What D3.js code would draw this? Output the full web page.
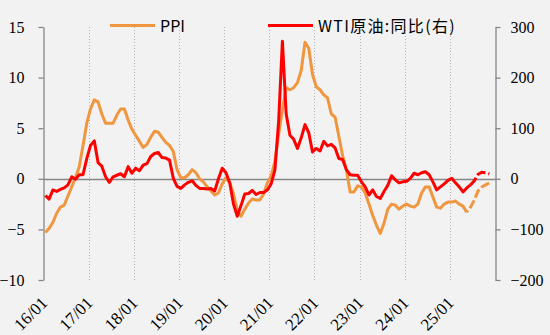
<!DOCTYPE html>
<html><head><meta charset="utf-8">
<script src="https://cdn.jsdelivr.net/npm/d3@7"></script>
<style>
html,body{margin:0;padding:0;background:#f2f2f2;}
svg{display:block;}
</style></head><body>
<svg id="c" width="550" height="335"></svg>
<script>
// ---------- data ----------
const xTickLabels = ["16/01","17/01","18/01","19/01","20/01","21/01","22/01","23/01","24/01","25/01"];
const leftTicks = [-10,-5,0,5,10,15];
const rightTicks = [-200,-100,0,100,200,300];
const seriesNames = ["PPI","WTI原油:同比(右)"];

// PPI YoY (%), monthly from 2016-01
const ppiActual = [
  -5.3,-4.9,-4.3,-3.4,-2.8,-2.6,-1.7,-0.8,0.1,1.2,3.3,5.5,
  6.9,7.8,7.6,6.4,5.5,5.5,5.5,6.3,6.9,6.9,5.8,4.9,
  4.3,3.7,3.1,3.4,4.1,4.7,4.6,4.1,3.6,3.3,2.7,0.9,
  0.1,0.1,0.4,0.9,0.6,0.0,-0.3,-0.8,-1.2,-1.6,-1.4,-0.5,
  0.1,-0.4,-1.5,-3.1,-3.7,-3.0,-2.4,-2.0,-2.1,-2.1,-1.5,-0.4,
  0.3,1.7,4.4,6.8,9.0,8.8,9.0,9.5,10.7,13.5,12.9,10.3,
  9.1,8.8,8.3,8.0,6.4,6.1,4.2,2.3,0.9,-1.3,-1.3,-0.7,
  -0.8,-1.4,-2.5,-3.6,-4.6,-5.4,-4.4,-3.0,-2.5,-2.6,-3.0,-2.7,
  -2.5,-2.7,-2.8,-2.5,-1.4,-0.8,-0.8,-1.8,-2.8,-2.9,-2.5,-2.3,
  -2.3,-2.2,-2.5,-2.7,-3.3
];
const ppiForecastStart = 112;
const ppiForecast = [-3.3,-2.8,-2.1,-1.2,-0.8,-0.6,-0.4];

// WTI crude YoY (%), monthly from 2016-01
const wtiActual = [
  -33,-40,-22,-25,-21,-18,-12,4,-1,8,8,40,
  66,75,32,25,4,-7,4,7,10,4,24,11,
  21,16,27,30,44,50,52,42,41,37,1,-15,
  -19,-12,-7,-4,-13,-19,-19,-20,-19,-24,0,21,
  12,-8,-50,-74,-53,-30,-29,-23,-31,-27,-27,-22,
  -10,17,114,272,128,86,78,60,81,107,91,53,
  60,55,74,65,68,61,40,38,18,8,7,7,
  -6,-16,-32,-22,-35,-39,-25,-13,6,-2,-8,-6,
  -5,1,11,8,12,14,8,-6,-22,-16,-10,-3,
  1,-8,-16,-26,-18,-12
];
const wtiForecastStart = 113;
const wtiForecast = [-12,-4,9,13,12,10];

// ---------- layout ----------
const svg = d3.select("#c");
const L = 43.5, R = 495.5, T = 27, B = 280;
const serif = "'Liberation Serif','Times New Roman',serif";
const sans = "'Noto Sans CJK SC','Microsoft YaHei',sans-serif";
const axisColor = "#868686";
const ppiColor = "#f0963e";
const wtiColor = "#ff0000";

svg.append("rect").attr("width",550).attr("height",335).attr("fill","#f2f2f2");

const nMonths = xTickLabels.length * 12;
const x = d3.scaleBand().domain(d3.range(nMonths)).range([L, R - 0.5]);
const xc = m => x(m) + x.bandwidth()/2;
const yL = d3.scaleLinear().domain([-10,15]).range([B,T]);
const yR = d3.scaleLinear().domain([-200,300]).range([B,T]);

// vertical dotted gridlines at each January
svg.append("g").selectAll("line")
  .data(xTickLabels.slice(1).map((d,i)=>(i+1)*12))
  .join("line")
  .attr("x1",d=>Math.round(x(d))+0.5).attr("x2",d=>Math.round(x(d))+0.5)
  .attr("y1",yL(15)).attr("y2",yL(-10))
  .attr("stroke","#b4b4b4").attr("stroke-width",1).attr("stroke-dasharray","1,2");

// zero line
svg.append("line")
  .attr("x1",L).attr("x2",R)
  .attr("y1",Math.round(yL(0))+0.5).attr("y2",Math.round(yL(0))+0.5)
  .attr("stroke",axisColor).attr("stroke-width",1.5);

// left axis
const gL = svg.append("g").attr("transform",`translate(${L},0)`)
  .call(d3.axisLeft(yL).tickValues(leftTicks).tickSize(5).tickSizeOuter(0).tickPadding(14).tickFormat(d3.format("d")));
// right axis
const gR = svg.append("g").attr("transform",`translate(${R},0)`)
  .call(d3.axisRight(yR).tickValues(rightTicks).tickSize(5).tickSizeOuter(0).tickPadding(10).tickFormat(d3.format("d")));
[gL,gR].forEach(g=>{
  g.select(".domain").attr("stroke",axisColor).attr("stroke-width",1.3);
  g.selectAll(".tick line").attr("stroke",axisColor).attr("stroke-width",1.3);
  g.selectAll(".tick text").attr("fill","#000").style("font-family",serif).style("font-size","16px");
});

// x labels
svg.append("g").selectAll("text")
  .data(xTickLabels)
  .join("text")
  .attr("transform",(d,i)=>`translate(${x(i*12)+5},304) rotate(-45)`)
  .attr("text-anchor","end")
  .style("font-family",serif).style("font-size","17px").attr("fill","#000")
  .text(d=>d);

// lines
const lineL = d3.line().x(d=>xc(d.m)).y(d=>yL(d.v));
const lineR = d3.line().x(d=>xc(d.m)).y(d=>yR(d.v));
const ppiA = ppiActual.map((v,i)=>({m:i,v}));
const ppiF = ppiForecast.map((v,i)=>({m:ppiForecastStart+i,v}));
const wtiA = wtiActual.map((v,i)=>({m:i,v}));
const wtiF = wtiForecast.map((v,i)=>({m:wtiForecastStart+i,v}));

svg.append("path").datum(ppiA).attr("d",lineL).attr("fill","none")
  .attr("stroke",ppiColor).attr("stroke-width",3).attr("stroke-linejoin","round");
svg.append("path").datum(ppiF).attr("d",lineL).attr("fill","none")
  .attr("stroke",ppiColor).attr("stroke-width",3).attr("stroke-dasharray","9,3").attr("stroke-dashoffset",7);
svg.append("path").datum(wtiA).attr("d",lineR).attr("fill","none")
  .attr("stroke",wtiColor).attr("stroke-width",3).attr("stroke-linejoin","round");
svg.append("path").datum(wtiF).attr("d",lineR).attr("fill","none")
  .attr("stroke",wtiColor).attr("stroke-width",3).attr("stroke-dasharray","9,3");

// legend
const legend = [
  {name:seriesNames[0], color:ppiColor, x:110, ls:0},
  {name:seriesNames[1], color:wtiColor, x:268, ls:1.3}
];
const lg = svg.append("g").selectAll("g").data(legend).join("g")
  .attr("transform",d=>`translate(${d.x},25.5)`);
lg.append("line").attr("x1",0).attr("x2",45).attr("y1",0).attr("y2",0)
  .attr("stroke",d=>d.color).attr("stroke-width",3);
lg.append("text").attr("x",50).attr("y",6)
  .style("font-family",sans).style("font-size","16px").style("letter-spacing",d=>d.ls+"px").attr("fill","#000")
  .text(d=>d.name);
</script>
</body></html>
